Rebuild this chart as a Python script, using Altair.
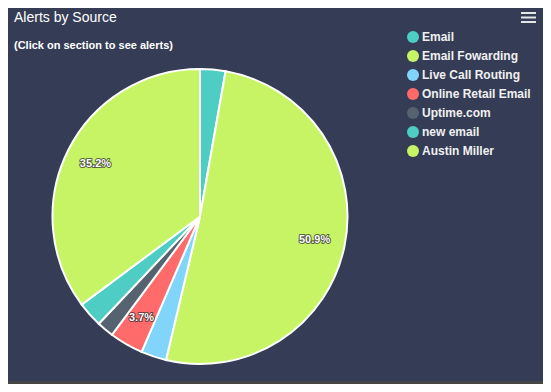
import altair as alt
import pandas as pd

sources = ["Email", "Email Fowarding", "Live Call Routing", "Online Retail Email",
           "Uptime.com", "new email", "Austin Miller"]
counts = [3, 55, 3, 4, 2, 3, 38]
colors = ["#4ecdc4", "#c7f464", "#81d4fa", "#ff6b6b", "#556270", "#4ecdc4", "#c7f464"]
title_text = "Alerts by Source"
subtitle_text = "(Click on section to see alerts)"
menu_lines = [5, 9.5, 14]

FONT = "Liberation Sans"
CX, CY, R = 192, 208.5, 147.5

df = pd.DataFrame({"source": sources, "count": counts, "idx": list(range(len(sources)))})

base = alt.Chart(df).transform_joinaggregate(
    total="sum(count)"
).transform_calculate(
    pct="100 * datum.count / datum.total",
).transform_calculate(
    label="datum.pct > 3 ? format(datum.pct, '.1f') + '%' : ''"
).encode(
    theta=alt.Theta("count:Q", stack=True),
    order=alt.Order("idx:Q"),
    x=alt.value(CX),
    y=alt.value(CY),
)

arcs = base.mark_arc(outerRadius=R, stroke="#ffffff", strokeWidth=2).encode(
    color=alt.Color(
        "source:N",
        scale=alt.Scale(domain=sources, range=colors),
        sort=sources,
        legend=alt.Legend(
            title=None, orient="none", legendX=399, legendY=23,
            symbolType="circle", symbolSize=144, symbolStrokeWidth=0,
            labelFont=FONT, labelFontSize=12, labelFontWeight="bold",
            labelColor="#f0f0f0", rowPadding=7, labelOffset=3, padding=0,
            labelLimit=200,
        ),
    )
)

lab_outline = base.mark_text(
    radius=117, font=FONT, fontSize=11, fontWeight="bold",
    stroke="#2a2a2a", strokeWidth=2, fill="#2a2a2a", strokeJoin="round",
    strokeOpacity=0.7,
).encode(text="label:N")

lab_fill = base.mark_text(
    radius=117, font=FONT, fontSize=11, fontWeight="bold", fill="#ffffff",
).encode(text="label:N")

title = alt.Chart(pd.DataFrame({"t": [title_text]})).mark_text(
    align="left", baseline="alphabetic", font=FONT, fontSize=14, color="#ffffff"
).encode(x=alt.value(6), y=alt.value(13.5), text="t:N")

subtitle = alt.Chart(pd.DataFrame({"t": [subtitle_text]})).mark_text(
    align="left", baseline="alphabetic", font=FONT, fontSize=11,
    fontWeight="bold", color="#ffffff"
).encode(x=alt.value(6), y=alt.value(41), text="t:N")

menu = alt.Chart(pd.DataFrame({"y": menu_lines})).mark_rule(
    color="#e6e6e6", strokeWidth=2
).encode(
    x=alt.value(513), x2=alt.value(528),
    y=alt.Y("y:Q", scale=None),
)

chart = alt.layer(arcs, lab_outline, lab_fill, title, subtitle, menu).properties(
    width=535, height=373,
    padding={"left": 0, "top": 0, "right": 0, "bottom": 3},
    autosize=alt.AutoSizeParams(type="none"),
    background="#454545",
).configure_view(fill="#353d56", stroke=None)

chart.save("out.html", embed_options={"renderer": "svg", "actions": False})
